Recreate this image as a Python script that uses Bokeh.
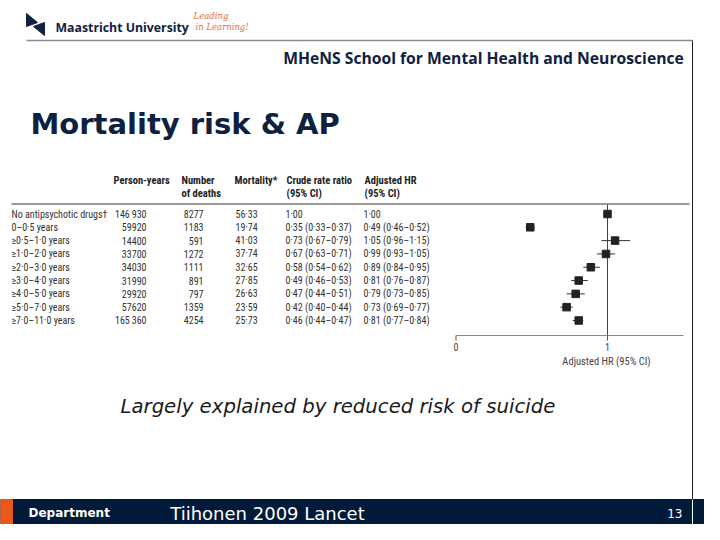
from bokeh.plotting import figure
from bokeh.models import Range1d
from bokeh.core.properties import value
from bokeh.embed import file_html
from bokeh.resources import INLINE

# ---------------- data ----------------
groups = ["No antipsychotic drugs\u2020", "0\u20130\u00b75 years", "\u22650\u00b75\u20131\u00b70 years",
          "\u22651\u00b70\u20132\u00b70 years", "\u22652\u00b70\u20133\u00b70 years", "\u22653\u00b70\u20134\u00b70 years",
          "\u22654\u00b70\u20135\u00b70 years", "\u22655\u00b70\u20137\u00b70 years", "\u22657\u00b70\u201311\u00b70 years"]
person_years = [146930, 59920, 14400, 33700, 34030, 31990, 29920, 57620, 165360]
deaths = [8277, 1183, 591, 1272, 1111, 891, 797, 1359, 4254]
mortality = [56.33, 19.74, 41.03, 37.74, 32.65, 27.85, 26.63, 23.59, 25.73]
crude = [1.00, 0.35, 0.73, 0.67, 0.58, 0.49, 0.47, 0.42, 0.46]
crude_lo = [None, 0.33, 0.67, 0.63, 0.54, 0.46, 0.44, 0.40, 0.44]
crude_hi = [None, 0.37, 0.79, 0.71, 0.62, 0.53, 0.51, 0.44, 0.47]
hr = [1.00, 0.49, 1.05, 0.99, 0.89, 0.81, 0.79, 0.73, 0.81]
hr_lo = [None, 0.46, 0.96, 0.93, 0.84, 0.76, 0.73, 0.69, 0.77]
hr_hi = [None, 0.52, 1.15, 1.05, 0.95, 0.87, 0.85, 0.77, 0.84]
hr_ticks = [0, 1]
axis_end = 1.5

title = "Mortality risk & AP"
subtitle = "Largely explained by reduced risk of suicide"
school = "MHeNS School for Mental Health and Neuroscience"
footer_left = "Department"
footer_mid = "Tiihonen 2009 Lancet"
page_no = "13"

# ---------------- helpers ----------------
def dec(v):
    return f"{v:.2f}".replace(".", "\u00b7")

def pyears(v):
    s = str(v)
    if v >= 100000:
        s = s[:-3] + "\u2009" + s[-3:]
    return s

def ci(v, lo, hi):
    if lo is None:
        return dec(v)
    return f"{dec(v)} ({dec(lo)}\u2013{dec(hi)})"

NAVY = "#0f2140"
TXT = "#333333"
NARROW = value("Roboto Condensed")

p = figure(width=704, height=524, x_range=Range1d(0, 704), y_range=Range1d(524, 0),
           output_backend="svg", toolbar_location=None, min_border=0,
           x_axis_type=None, y_axis_type=None)
p.grid.visible = False
p.outline_line_color = None
p.background_fill_color = "white"
p.border_fill_color = "white"

# row scale: row index -> vertical position; HR scale -> horizontal position
row0, drow = 213.5, 13.31
p.extra_y_ranges = {"rows": Range1d(start=(524 - row0) / drow, end=(0 - row0) / drow)}
x0, dx = 455.5, 151.5
p.extra_x_ranges = {"hr": Range1d(start=(0 - x0) / dx, end=(704 - x0) / dx)}

rows = list(range(len(groups)))

# ---------------- header ----------------
p.patch([26, 26, 37], [13, 26, 22], color=NAVY)
p.patch([44, 44, 33], [35, 22, 26], color=NAVY)
p.text([55], [27], text=["Maastricht University"], text_font=value("Open Sans"),
       text_font_style="bold", text_font_size="12.3px", text_color=NAVY,
       text_baseline="middle", text_align="left")
p.text([193, 195], [15, 26], text=["Leading", "in Learning!"], text_font=value("DejaVu Serif"),
       text_font_style="italic", text_font_size="8.5px", text_color="#e0703a",
       text_baseline="middle", text_align="left")
p.segment([26], [40], [692], [40], line_color="#8a8a8a", line_width=1.5)
p.segment([692], [40], [692], [499], line_color="#222222", line_width=1)
p.text([483], [57], text=[school], text_font=value("Open Sans"), text_font_style="bold",
       text_font_size="15.7px", text_color=NAVY, text_baseline="middle", text_align="center")

p.text([30], [123], text=[title], text_font=value("DejaVu Sans"), text_font_style="bold",
       text_font_size="29px", text_color=NAVY, text_baseline="alphabetic", text_align="left")

# ---------------- table ----------------
hdr1 = ["Person-years", "Number", "Mortality*", "Crude rate ratio", "Adjusted HR"]
hdr2 = ["", "of deaths", "", "(95% CI)", "(95% CI)"]
hx = [113, 181, 234, 286, 364]
p.text(hx, [180] * 5, text=hdr1, text_font=NARROW, text_font_style="bold",
       text_font_size="10.5px", text_color="#222222", text_baseline="middle", text_align="left")
p.text(hx, [193] * 5, text=hdr2, text_font=NARROW, text_font_style="bold",
       text_font_size="10.5px", text_color="#222222", text_baseline="middle", text_align="left")
p.segment([11], [203.5], [689], [203.5], line_color="#333333", line_width=1)

common = dict(text_font=NARROW, text_font_size="10px", text_color=TXT,
              text_baseline="middle", y_range_name="rows")
p.text([11] * len(rows), rows, text=groups, text_align="left", **common)
p.text([146] * len(rows), rows, text=[pyears(v) for v in person_years], text_align="right", **common)
p.text([203] * len(rows), rows, text=[str(v) for v in deaths], text_align="right", **common)
p.text([235] * len(rows), rows, text=[dec(v) for v in mortality], text_align="left", **common)
p.text([285] * len(rows), rows, text=[ci(v, l, h) for v, l, h in zip(crude, crude_lo, crude_hi)],
       text_align="left", **common)
p.text([363] * len(rows), rows, text=[ci(v, l, h) for v, l, h in zip(hr, hr_lo, hr_hi)],
       text_align="left", **common)

# ---------------- forest plot ----------------
p.segment([1], [204], [1], [335], x_range_name="hr", line_color="#444444", line_width=1)
p.segment([0], [335], [axis_end], [335], x_range_name="hr", line_color="#888888", line_width=1)
p.segment(hr_ticks, [335] * 2, hr_ticks, [340] * 2, x_range_name="hr", line_color="#555555", line_width=1)
p.text(hr_ticks, [346] * 2, text=[str(t) for t in hr_ticks], x_range_name="hr",
       text_font=NARROW, text_font_size="10px", text_color="#444444",
       text_baseline="middle", text_align="center")
p.text([606], [361], text=["Adjusted HR (95% CI)"], text_font=NARROW, text_font_size="10.5px",
       text_color="#444444", text_baseline="middle", text_align="center")

ci_rows = [r for r in rows if hr_lo[r] is not None]
p.segment([hr_lo[r] for r in ci_rows], ci_rows, [hr_hi[r] for r in ci_rows], ci_rows,
          x_range_name="hr", y_range_name="rows", line_color="#333333", line_width=1)
p.scatter(hr, rows, marker="square", size=7.5, color="#222222",
          x_range_name="hr", y_range_name="rows")

# ---------------- subtitle ----------------
p.text([120], [406], text=[subtitle], text_font=value("DejaVu Sans"), text_font_style="italic",
       text_font_size="19.7px", text_color="#1a1a1a", text_baseline="alphabetic", text_align="left")

# ---------------- footer ----------------
p.quad(left=[0], right=[707], top=[499], bottom=[526.5], color="#011a3a")
p.quad(left=[0], right=[12], top=[499], bottom=[526.5], color="#e8581c")
p.segment([0], [526.5], [707], [526.5], line_color="#8ea0b4", line_width=1)
p.segment([692], [499], [692], [527], line_color="white", line_width=1)
p.segment([692], [527], [692], [540], line_color="#222222", line_width=1)
p.text([28], [512.5], text=[footer_left], text_font=value("DejaVu Sans"), text_font_style="bold",
       text_font_size="12px", text_color="white", text_baseline="middle", text_align="left")
p.text([267], [512.5], text=[footer_mid], text_font=value("DejaVu Sans"),
       text_font_size="18px", text_color="white", text_baseline="middle", text_align="center")
p.text([682], [512.5], text=[page_no], text_font=value("DejaVu Sans"),
       text_font_size="12px", text_color="white", text_baseline="middle", text_align="right")

open("out.html", "w").write(file_html(p, INLINE))
